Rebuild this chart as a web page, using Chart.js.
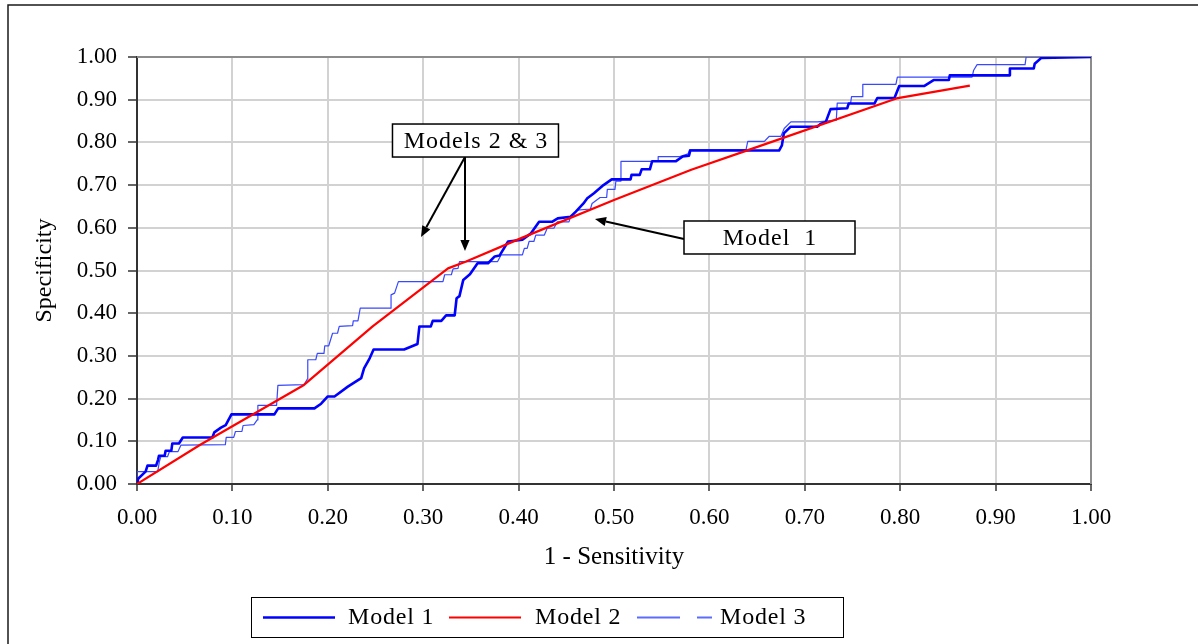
<!DOCTYPE html>
<html>
<head>
<meta charset="utf-8">
<script src="https://cdn.jsdelivr.net/npm/chart.js@4.4.1/dist/chart.umd.min.js"></script>
<style>
  html, body { margin: 0; padding: 0; background: #ffffff; }
  #wrap { width: 1198px; height: 644px; position: relative; }
</style>
</head>
<body>
<div id="wrap"><canvas id="c" width="1198" height="644"></canvas></div>
<script>
// ---------------- data ----------------
const seriesNames = ['Model 1', 'Model 2', 'Model 3'];

// [1 - Sensitivity, Specificity]
const model1 = [
  [0,0],[0.0014,0.013],[0.009,0.029],[0.011,0.043],[0.020,0.043],[0.022,0.056],[0.023,0.066],
  [0.029,0.066],[0.030,0.078],[0.036,0.078],[0.037,0.095],[0.044,0.095],[0.048,0.109],[0.079,0.109],
  [0.081,0.121],[0.088,0.132],[0.093,0.138],[0.099,0.163],[0.144,0.163],[0.148,0.177],[0.186,0.177],
  [0.193,0.188],[0.200,0.205],[0.207,0.205],[0.221,0.228],[0.235,0.248],[0.238,0.271],[0.244,0.295],
  [0.248,0.315],[0.280,0.315],[0.294,0.328],[0.296,0.369],[0.308,0.369],[0.310,0.382],[0.319,0.382],
  [0.324,0.395],[0.333,0.395],[0.335,0.435],[0.338,0.440],[0.342,0.478],[0.349,0.491],[0.357,0.517],
  [0.368,0.517],[0.375,0.533],[0.380,0.535],[0.389,0.568],[0.404,0.572],[0.413,0.587],[0.4215,0.614],
  [0.435,0.614],[0.441,0.622],[0.4545,0.626],[0.460,0.638],[0.468,0.657],[0.472,0.669],[0.479,0.681],
  [0.489,0.700],[0.4976,0.7135],[0.5174,0.7135],[0.5184,0.724],[0.527,0.724],[0.529,0.737],[0.5376,0.737],
  [0.540,0.756],[0.565,0.756],[0.572,0.767],[0.5786,0.769],[0.580,0.781],[0.673,0.781],[0.676,0.793],
  [0.678,0.821],[0.685,0.8365],[0.713,0.8365],[0.717,0.844],[0.722,0.848],[0.727,0.878],[0.7445,0.880],
  [0.746,0.891],[0.773,0.891],[0.776,0.904],[0.794,0.904],[0.799,0.932],[0.825,0.932],[0.835,0.946],
  [0.851,0.946],[0.852,0.957],[0.915,0.957],[0.915,0.973],[0.940,0.973],[0.941,0.984],[0.948,0.998],
  [1.0,1.0]
];

const model2 = [
  [0,0],[0.0663,0.092],[0.175,0.232],[0.247,0.369],[0.326,0.505],[0.345,0.521],[0.404,0.577],
  [0.500,0.665],[0.581,0.736],[0.642,0.783],[0.796,0.903],[0.873,0.933]
];

const model3 = [
  [0,0],[0,0.029],[0.0217,0.029],[0.0234,0.052],[0.025,0.064],[0.032,0.064],[0.034,0.076],[0.043,0.076],
  [0.046,0.091],[0.0926,0.092],[0.0935,0.109],[0.1014,0.109],[0.1032,0.123],[0.110,0.123],[0.1112,0.137],
  [0.1225,0.139],[0.126,0.150],[0.1267,0.184],[0.1463,0.184],[0.1477,0.231],[0.175,0.2325],[0.1786,0.246],
  [0.179,0.291],[0.1874,0.291],[0.189,0.306],[0.196,0.306],[0.1968,0.3237],[0.201,0.3237],[0.205,0.353],
  [0.2102,0.353],[0.212,0.369],[0.226,0.371],[0.2267,0.382],[0.2316,0.382],[0.234,0.4118],[0.2663,0.4118],
  [0.2663,0.443],[0.270,0.447],[0.274,0.474],[0.3207,0.474],[0.3225,0.490],[0.3295,0.490],[0.3313,0.504],
  [0.3365,0.505],[0.338,0.521],[0.378,0.521],[0.3816,0.5366],[0.404,0.5366],[0.406,0.552],[0.409,0.552],
  [0.411,0.568],[0.416,0.568],[0.418,0.583],[0.427,0.583],[0.430,0.599],[0.437,0.599],[0.4406,0.614],
  [0.4528,0.614],[0.4545,0.626],[0.4615,0.6416],[0.4753,0.644],[0.477,0.657],[0.4854,0.671],[0.4923,0.671],
  [0.493,0.690],[0.501,0.690],[0.502,0.7095],[0.5063,0.7095],[0.5073,0.7556],[0.5463,0.7556],[0.5463,0.7667],
  [0.5689,0.7667],[0.5776,0.773],[0.5793,0.7833],[0.6384,0.7833],[0.6402,0.8024],[0.6576,0.8024],[0.6628,0.8143],
  [0.675,0.8143],[0.6784,0.8325],[0.6854,0.848],[0.7132,0.848],[0.733,0.852],[0.734,0.892],[0.748,0.892],
  [0.749,0.907],[0.7608,0.907],[0.7608,0.936],[0.7955,0.936],[0.797,0.953],[0.8753,0.953],[0.877,0.969],
  [0.8806,0.982],[0.9309,0.982],[0.932,1.0],[1.0,1.0]
];

const xTickValues = [0, 0.1, 0.2, 0.3, 0.4, 0.5, 0.6, 0.7, 0.8, 0.9, 1.0];
const yTickValues = [0, 0.1, 0.2, 0.3, 0.4, 0.5, 0.6, 0.7, 0.8, 0.9, 1.0];
const xTitle = '1 - Sensitivity';
const yTitle = 'Specificity';
const calloutTexts = ['Models 2 & 3', 'Model  1'];

// ---------------- styling ----------------
const FONT = '"Liberation Serif", "Times New Roman", Times, serif';
const colors = ['#0000ff', '#ff0000', '#3848ff'];
const widths = [2.6, 2.2, 1.2];

// callout anchors in data space (x value, y value)
const callouts = [
  { text: calloutTexts[0], cx: 0.3548, cy: 0.8044, w: 166, h: 33,
    arrows: [ { from: [0.3438, 0.7658], to: [0.2977, 0.5785] },
              { from: [0.3438, 0.7658], to: [0.3438, 0.5457] } ] },
  { text: calloutTexts[1], cx: 0.6630, cy: 0.5773, w: 171, h: 33,
    arrows: [ { from: [0.5734, 0.5738], to: [0.4801, 0.6206] } ] }
];

const toPts = arr => arr.map(p => ({ x: p[0], y: p[1] }));

function drawArrow(ctx, x0, y0, x1, y1) {
  const ang = Math.atan2(y1 - y0, x1 - x0);
  const len = 11, half = 4.6;
  const bx = x1 - len * Math.cos(ang), by = y1 - len * Math.sin(ang);
  ctx.beginPath();
  ctx.moveTo(x0, y0);
  ctx.lineTo(bx, by);
  ctx.strokeStyle = '#000';
  ctx.lineWidth = 2;
  ctx.stroke();
  ctx.beginPath();
  ctx.moveTo(x1, y1);
  ctx.lineTo(bx + half * Math.sin(ang), by - half * Math.cos(ang));
  ctx.lineTo(bx - half * Math.sin(ang), by + half * Math.cos(ang));
  ctx.closePath();
  ctx.fillStyle = '#000';
  ctx.fill();
}

function spacedText(ctx, text, x, y, spacing) {
  if ('letterSpacing' in ctx) {
    ctx.letterSpacing = spacing + 'px';
    ctx.fillText(text, x, y);
    ctx.letterSpacing = '0px';
  } else {
    ctx.fillText(text, x, y);
  }
}

const decor = {
  id: 'decor',
  beforeDraw(chart) {
    const ctx = chart.ctx;
    ctx.save();
    ctx.fillStyle = '#fff';
    ctx.fillRect(0, 0, chart.width, chart.height);
    ctx.strokeStyle = '#1a1a1a';
    ctx.lineWidth = 1.5;
    ctx.beginPath();
    ctx.moveTo(8, chart.height + 2);
    ctx.lineTo(8, 5);
    ctx.lineTo(chart.width + 2, 5);
    ctx.stroke();
    ctx.restore();
  },
  beforeDatasetsDraw(chart) {
    const ctx = chart.ctx, a = chart.chartArea;
    ctx.save();
    ctx.strokeStyle = '#8c8c8c';
    ctx.lineWidth = 2;
    ctx.beginPath();
    ctx.moveTo(a.left, a.top);
    ctx.lineTo(a.right, a.top);
    ctx.lineTo(a.right, a.bottom);
    ctx.stroke();
    ctx.restore();
  },
  afterDraw(chart) {
    const ctx = chart.ctx;
    const xs = chart.scales.x, ys = chart.scales.y;
    ctx.save();
    // callouts
    callouts.forEach(c => {
      c.arrows.forEach(ar => {
        drawArrow(ctx, xs.getPixelForValue(ar.from[0]), ys.getPixelForValue(ar.from[1]),
                       xs.getPixelForValue(ar.to[0]), ys.getPixelForValue(ar.to[1]));
      });
      const px = xs.getPixelForValue(c.cx), py = ys.getPixelForValue(c.cy);
      ctx.fillStyle = '#fff';
      ctx.fillRect(px - c.w / 2, py - c.h / 2, c.w, c.h);
      ctx.strokeStyle = '#000';
      ctx.lineWidth = 1.5;
      ctx.strokeRect(px - c.w / 2, py - c.h / 2, c.w, c.h);
      ctx.fillStyle = '#000';
      ctx.font = '24px ' + FONT;
      ctx.textAlign = 'center';
      ctx.textBaseline = 'middle';
      spacedText(ctx, c.text, px + 0.5, py + 1, 1);
    });
    // legend
    const lg = { left: 251, top: 597, w: 592, h: 40 };
    ctx.strokeStyle = '#000';
    ctx.lineWidth = 1;
    ctx.strokeRect(lg.left + 0.5, lg.top + 0.5, lg.w, lg.h);
    const cy = lg.top + 20;
    const items = [
      { x0: 263, x1: 335, tx: 348, dash: [] },
      { x0: 449, x1: 521, tx: 535, dash: [] },
      { x0: 637, x1: 712, tx: 720, dash: [43, 17] }
    ];
    chart.data.datasets.forEach((ds, i) => {
      const it = items[i];
      ctx.beginPath();
      ctx.setLineDash(it.dash);
      ctx.strokeStyle = i === 2 ? '#5c6cff' : ds.borderColor;
      ctx.lineWidth = i === 2 ? 2 : ds.borderWidth;
      ctx.moveTo(it.x0, cy + 0.5);
      ctx.lineTo(it.x1, cy + 0.5);
      ctx.stroke();
      ctx.setLineDash([]);
      ctx.fillStyle = '#000';
      ctx.font = '24px ' + FONT;
      ctx.textAlign = 'left';
      ctx.textBaseline = 'middle';
      spacedText(ctx, ds.label, it.tx, cy + 1, 0.8);
    });
    ctx.restore();
  }
};

Chart.defaults.font.family = FONT;
Chart.defaults.font.size = 23;
Chart.defaults.color = '#000';

const axisCommon = {
  type: 'linear',
  min: 0,
  max: 1,
  grid: { color: '#d2d2d2', lineWidth: 2, drawTicks: true, tickColor: '#333', tickWidth: 1.5 },
  border: { color: '#333', width: 2 }
};

new Chart(document.getElementById('c'), {
  type: 'line',
  data: {
    datasets: [
      { label: seriesNames[0], data: toPts(model1), borderColor: colors[0], borderWidth: widths[0], order: 1 },
      { label: seriesNames[1], data: toPts(model2), borderColor: colors[1], borderWidth: widths[1], order: 0 },
      { label: seriesNames[2], data: toPts(model3), borderColor: colors[2], borderWidth: widths[2], order: 2 }
    ]
  },
  options: {
    responsive: false,
    animation: false,
    devicePixelRatio: 1,
    parsing: true,
    elements: { point: { radius: 0, hoverRadius: 0 }, line: { tension: 0, borderJoinStyle: 'round' } },
    layout: { padding: { left: 30, top: 57, right: 107, bottom: 72 } },
    plugins: { legend: { display: false }, tooltip: { enabled: false } },
    events: [],
    scales: {
      x: Object.assign({}, axisCommon, {
        position: 'bottom',
        grid: Object.assign({}, axisCommon.grid, { tickLength: 7 }),
        ticks: { padding: 13, autoSkip: false, maxRotation: 0, callback: v => Number(v).toFixed(2) },
        afterBuildTicks: s => { s.ticks = xTickValues.map(v => ({ value: v })); },
        afterFit: s => { s.height = 88; },
        title: { display: true, text: xTitle, padding: { top: 0, bottom: 0 }, font: { size: 25 } }
      }),
      y: Object.assign({}, axisCommon, {
        position: 'left',
        grid: Object.assign({}, axisCommon.grid, { tickLength: 9 }),
        ticks: { padding: 11, autoSkip: false, callback: v => Number(v).toFixed(2) },
        afterBuildTicks: s => { s.ticks = yTickValues.map(v => ({ value: v })); },
        afterFit: s => { s.width = 107; },
        title: { display: true, text: yTitle, padding: { top: 0, bottom: 0 }, font: { size: 24 } }
      })
    }
  },
  plugins: [decor]
});
</script>
</body>
</html>
